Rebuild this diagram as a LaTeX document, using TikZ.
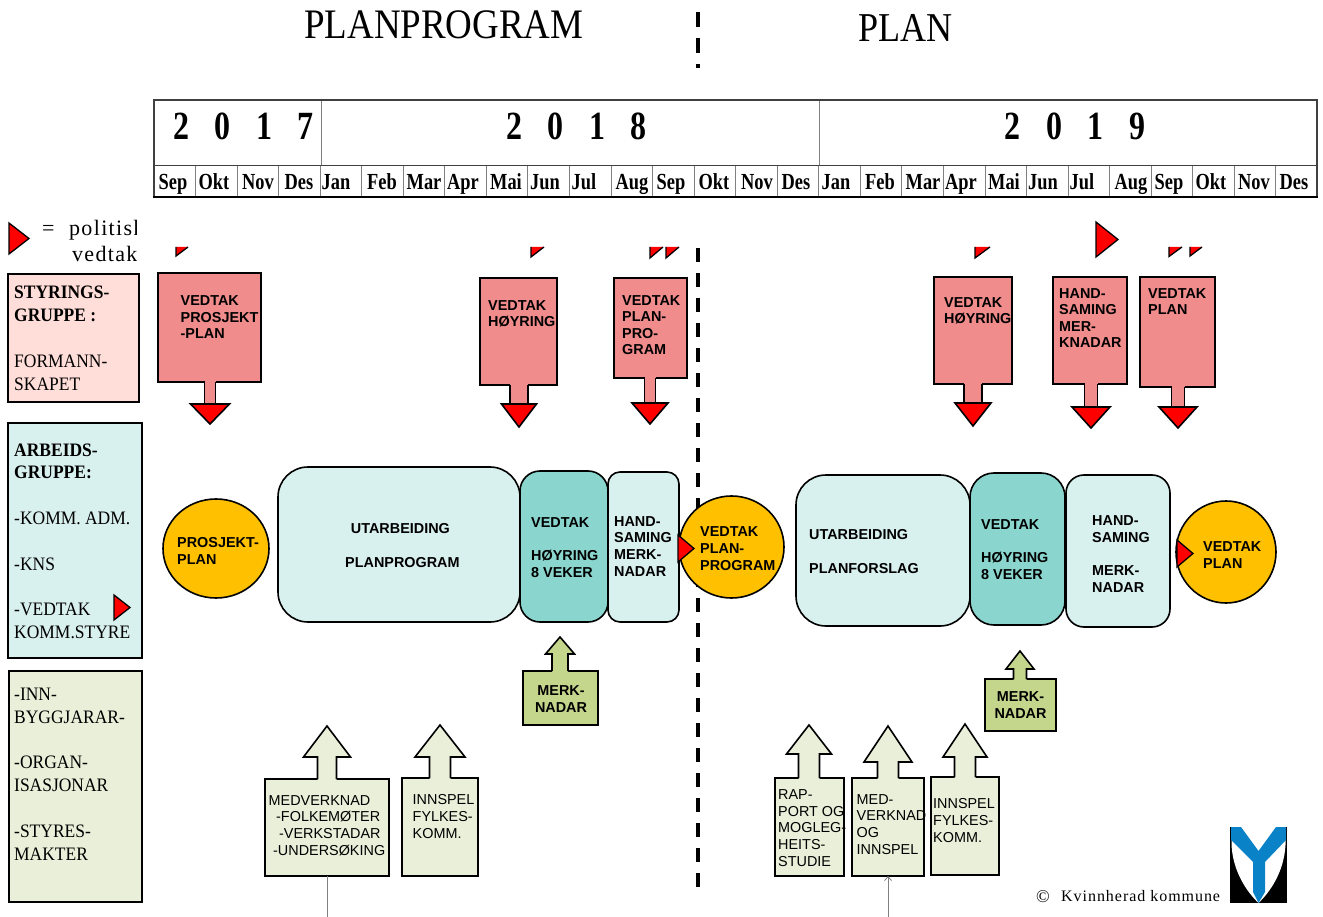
\documentclass[tikz,border=0pt]{standalone}
\usepackage{fontspec}
\setmainfont{Liberation Serif}
\setsansfont{Liberation Sans}
\newfontfamily\titlefont[FakeStretch=0.88]{Liberation Serif}
\newfontfamily\yearfont[FakeStretch=0.8]{Liberation Serif}
\newfontfamily\monthfont[FakeStretch=0.8]{Liberation Serif}
\newfontfamily\sidefont[FakeStretch=0.92]{Liberation Serif}
\newfontfamily\spacedfont[LetterSpace=6]{Liberation Serif}
\usepackage{tikz}
\usetikzlibrary{arrows.meta,shapes.geometric}
\definecolor{pinkbox}{HTML}{F08C8C}
\definecolor{rosebox}{HTML}{FFDDD8}
\definecolor{paleteal}{HTML}{D8F0EE}
\definecolor{midteal}{HTML}{8AD6CE}
\definecolor{gold}{HTML}{FFC000}
\definecolor{midgreen}{HTML}{C3D68C}
\definecolor{palegreen}{HTML}{EAEFD9}
\definecolor{logoblue}{HTML}{0A82C8}
\tikzset{
  outline/.style={draw=black,line width=1.6pt,line join=miter},
  panel/.style={outline,inner sep=0pt,outer sep=0pt},
  blob/.style={panel,rectangle},
  disc/.style={panel,ellipse,fill=gold},
  triang/.style={draw=black,line width=1.3pt,fill=red,line join=miter},
  lab/.style={anchor=base west,inner sep=0pt,align=left,text=black,font=\sffamily\bfseries\fontsize{14.4}{16.6}\selectfont},
  lablight/.style={lab,font=\sffamily\fontsize{14.4}{16.6}\selectfont},
  labmid/.style={lab,anchor=base,align=center},
  side/.style={anchor=base west,inner sep=0pt,align=left,font=\sidefont\fontsize{19}{22.8}\selectfont},
}
\newcommand{\spyear}[4]{#1\hspace{25.6pt}#2\hspace{25.6pt}#3\hspace{25.6pt}#4}
\begin{document}
\begin{tikzpicture}[x=1pt,y=-1pt]
  \useasboundingbox (0,0) rectangle (1323,917);

  % heading
  \node[anchor=base west,inner sep=0pt,font=\titlefont\fontsize{42}{42}\selectfont] (tp1) at (304,39) {PLANPROGRAM};
  \node[anchor=base west,inner sep=0pt,font=\titlefont\fontsize{41}{41}\selectfont] (tp2) at (858,42) {PLAN};
  \coordinate (d1) at (698,12);
  \coordinate (d2) at (698,68);
  \coordinate (d3) at (698,248);
  \coordinate (d4) at (698,888);
  \draw[line width=3.2pt,dash pattern=on 15pt off 11pt] (d1) -- (d2);
  \draw[line width=3.2pt,dash pattern=on 14pt off 11pt] (d3) -- (d4);

  % time line
  \foreach \i in {1,...,27}
    \draw[gray,line width=1pt] ({154+41.55*\i},166) -- ({154+41.55*\i},197);
  \draw[gray,line width=1pt] (321,100) -- (321,166);
  \draw[gray,line width=1pt] (819,100) -- (819,166);
  \draw[black!75,line width=1pt] (154,166) -- (1317,166);
  \draw[black!75,line width=1.2pt] (154,197) -- (154,100) -- (1317,100) -- (1317,197);
  \draw[black,line width=2pt] (153,197) -- (1318,197);
  \foreach \nm/\xc/\yr in {y17/243.5/{\spyear 2017},y18/576.5/{\spyear 2018},y19/1075/{\spyear 2019}}
    \node[anchor=base,inner sep=0pt,font=\yearfont\bfseries\fontsize{40}{40}\selectfont] (\nm) at (\xc,140) {\yr};
  \foreach \nm/\xc/\mon in {m1/173/Sep,m2/214/Okt,m3/258/Nov,m4/299/Des,m5/336/Jan,m6/382/Feb,m7/424/Mar,m8/463/Apr,m9/506/Mai,m10/545/Jun,m11/584/Jul,m12/632/Aug,m13/671/Sep,m14/714/Okt,m15/757/Nov,m16/796/Des,m17/836/Jan,m18/880/Feb,m19/923/Mar,m20/961/Apr,m21/1004/Mai,m22/1043/Jun,m23/1082/Jul,m24/1131/Aug,m25/1169/Sep,m26/1211/Okt,m27/1254/Nov,m28/1294/Des}
    \node[anchor=base,inner sep=0pt,font=\monthfont\bfseries\fontsize{23}{23}\selectfont] (\nm) at (\xc,190) {\mon};

  % legend and groups
  \begin{scope}
    \clip (30,210) rectangle (136.5,272);
    \node[anchor=base west,inner sep=0pt,font=\spacedfont\fontsize{22}{22}\selectfont] (lg1) at (42,236) {=};
    \node[anchor=base west,inner sep=0pt,font=\spacedfont\fontsize{22}{22}\selectfont] (lg2) at (69,236) {politisk};
    \node[anchor=base west,inner sep=0pt,font=\spacedfont\fontsize{22}{22}\selectfont] (lg3) at (72,262) {vedtak};
  \end{scope}
  \node[panel,fill=rosebox,minimum width=131pt,minimum height=128pt] (g1) at (73.5,338) {};
  \node[panel,fill=paleteal,minimum width=134pt,minimum height=235pt] (g2) at (75,540.5) {};
  \node[panel,fill=palegreen,minimum width=133pt,minimum height=231pt] (g3) at (75.5,786.5) {};
  \node[side] (tg1) at (14,390) {\textbf{STYRINGS-}\\\textbf{GRUPPE :}\\[22.8pt]FORMANN-\\SKAPET};
  \node[side] (tg2) at (14,638.5) {\textbf{ARBEIDS-}\\\textbf{GRUPPE:}\\[22.8pt]-KOMM. ADM.\\[22.8pt]-KNS\\[22.8pt]-VEDTAK\\KOMM.STYRE};
  \node[side] (tg3) at (14,860) {-INN-\\BYGGJARAR-\\[22.8pt]-ORGAN-\\ISASJONAR\\[22.8pt]-STYRES-\\MAKTER};

  % vedtak boxes
  \foreach \nm/\xa/\ya/\xb/\yb/\xc/\sw/\hy/\hw/\yt in {p1/158/273/261/382/210/5.5/404/19.5/424,p2/480/278/557/385/519/9/404/17.5/427,p3/614/278/687/378/650/5.5/403/18/424,p4/934/277/1012/384/973/9/403/18/426,p5/1053/277/1127/384/1091/6.5/407/19/428,p6/1140/277/1215/387/1178/6.5/407/19/428} {
    \node[panel,fill=pinkbox,minimum width={\xb-\xa},minimum height={\yb-\ya}] (\nm) at ({(\xa+\xb)/2},{(\ya+\yb)/2}) {};
    \fill[pinkbox] ({\xc-\sw},{\yb-1.5}) rectangle ({\xc+\sw},\hy);
    \draw[outline] ({\xc-\sw},\yb) -- ({\xc-\sw},\hy) ({\xc+\sw},\hy) -- ({\xc+\sw},\yb);
    \draw[outline,fill=red] ({\xc-\hw},\hy) -- ({\xc+\hw},\hy) -- (\xc,\yt) -- cycle;
  }
  \node[lab] (tp1b) at (180.5,339) {VEDTAK\\PROSJEKT\\-PLAN};
  \node[lab] (tp2b) at (488,327) {VEDTAK\\HØYRING};
  \node[lab] (tp3b) at (622,355) {VEDTAK\\PLAN-\\PRO-\\GRAM};
  \node[lab] (tp4b) at (944,324) {VEDTAK\\HØYRING};
  \node[lab] (tp5b) at (1059,348) {HAND-\\SAMING\\MER-\\KNADAR};
  \node[lab] (tp6b) at (1148,315) {VEDTAK\\PLAN};

  % process row
  \node[blob,rounded corners=30pt,fill=paleteal,minimum width=242pt,minimum height=155pt] (u1) at (399,544.5) {};
  \node[blob,rounded corners=20pt,fill=midteal,minimum width=88pt,minimum height=151pt] (h1) at (564,546.5) {};
  \node[blob,rounded corners=12pt,fill=paleteal,minimum width=71pt,minimum height=150pt] (s1) at (643.5,547) {};
  \node[disc,minimum width=106pt,minimum height=99pt] (c1) at (216,548.5) {};
  \node[disc,minimum width=105pt,minimum height=102pt] (c2) at (731.5,547) {};
  \node[blob,rounded corners=30pt,fill=paleteal,minimum width=174pt,minimum height=151pt] (u2) at (883,550.5) {};
  \node[blob,rounded corners=24pt,fill=midteal,minimum width=95pt,minimum height=152pt] (h2) at (1017.5,549) {};
  \node[blob,rounded corners=18pt,fill=paleteal,minimum width=104pt,minimum height=152pt] (s2) at (1118,551) {};
  \node[disc,minimum width=100pt,minimum height=102pt] (c3) at (1226,552) {};
  \node[lab] (tc1) at (177,564) {PROSJEKT-\\PLAN};
  \node[lab,align=center] (tu1) at (345,567) {UTARBEIDING\hspace*{4pt}\\[16.6pt]PLANPROGRAM};
  \node[lab] (th1) at (531,577) {VEDTAK\\[16.6pt]HØYRING\\8 VEKER};
  \node[lab] (ts1) at (614,576) {HAND-\\SAMING\\MERK-\\NADAR};
  \node[lab] (tc2) at (700,570) {VEDTAK\\PLAN-\\PROGRAM};
  \node[lab] (tu2) at (809,573) {UTARBEIDING\\[16.6pt]PLANFORSLAG};
  \node[lab] (th2) at (981,579) {VEDTAK\\[16.6pt]HØYRING\\8 VEKER};
  \node[lab] (ts2) at (1092,592) {HAND-\\SAMING\\[16.6pt]MERK-\\NADAR};
  \node[lab] (tc3) at (1203,568) {VEDTAK\\PLAN};

  % vedtak markers
  \foreach \xa/\ya/\yb/\xb in {9/223/254/29,114/595/620/130,1096/222/257/1118,678/535/562/694,1177/540/567/1193}
    \draw[triang] (\xa,\ya) -- (\xa,\yb) -- (\xb,{(\ya+\yb)/2}) -- cycle;
  \foreach \xa/\sw/\hw in {176/12/9,531/13/10,650/13/11,666/13/11,975/15/11,1169/13/9.5,1190/12/9}
    \draw[triang] (\xa,247) -- (\xa,{247+\hw}) -- ({\xa+\sw},247);

  % input boxes
  \foreach \nm/\xa/\ya/\xb/\yb/\xc/\sw/\hy/\hw/\yt/\col in {b1/523/671/598/725/560/8/654/14.5/637/midgreen,b2/985/679/1056/731/1020/6.5/669/14/651/midgreen,b3/265/779/389/876/327/9.5/757/23.5/726/palegreen,b4/402/778/478/876/440/10.5/757/25/725/palegreen,b5/775/778/844/876/809/10.5/754/22.5/725/palegreen,b6/852/778/924/876/888/10.5/762/24/726/palegreen,b7/931/777/999/875/965/10.5/757/22/724/palegreen} {
    \node[panel,fill=\col,minimum width={\xb-\xa},minimum height={\yb-\ya}] (\nm) at ({(\xa+\xb)/2},{(\ya+\yb)/2}) {};
    \fill[\col] ({\xc-\sw},{\ya+1.5}) -- ({\xc-\sw},\hy) -- ({\xc-\hw},\hy) -- (\xc,\yt) -- ({\xc+\hw},\hy) -- ({\xc+\sw},\hy) -- ({\xc+\sw},{\ya+1.5}) -- cycle;
    \draw[outline] ({\xc-\sw},\ya) -- ({\xc-\sw},\hy) -- ({\xc-\hw},\hy) -- (\xc,\yt) -- ({\xc+\hw},\hy) -- ({\xc+\sw},\hy) -- ({\xc+\sw},\ya);
  }
  \node[labmid] (tb1) at (561,712) {MERK-\\NADAR};
  \node[labmid] (tb2) at (1020.5,718) {MERK-\\NADAR};
  \node[lablight] (tb3) at (268.5,855) {MEDVERKNAD\\\hspace*{7.5pt}-FOLKEMØTER\\\hspace*{10.5pt}-VERKSTADAR\\\hspace*{4.5pt}-UNDERSØKING};
  \node[lablight] (tb4) at (412.5,838) {INNSPEL\\FYLKES-\\KOMM.};
  \node[lablight] (tb5) at (778,866) {RAP-\\PORT OG\\MOGLEG-\\HEITS-\\STUDIE};
  \node[lablight] (tb6) at (856.5,854) {MED-\\VERKNAD\\OG\\INNSPEL};
  \node[lablight] (tb7) at (933,842) {INNSPEL\\FYLKES-\\KOMM.};
  \coordinate (e1) at (327,917);
  \coordinate (e2) at (888,917);
  \draw[gray,line width=1pt] (b3.south) -- (e1);
  \draw[gray,line width=0.8pt,-{Straight Barb[length=4pt,width=7pt]}] (e2) -- (b6.south);

  % logo
  \fill[black] (1230,827) rectangle (1287,903);
  \fill[white] (1231.5,827) -- (1231.5,845) .. controls (1233,872) and (1247,892) .. (1258.5,903) .. controls (1270,892) and (1284,872) .. (1285.5,845) -- (1285.5,827) -- cycle;
  \fill[logoblue] (1231,827) -- (1241,827) -- (1258.5,851) -- (1276,827) -- (1286,827) -- (1286,840) -- (1265,862) -- (1265,892) -- (1258.5,903) -- (1253,892) -- (1253,862) -- (1231,840) -- cycle;
  \node[anchor=base west,inner sep=0pt,font=\fontsize{18}{18}\selectfont] (cr) at (1036,902) {©};
  \node[anchor=base west,inner sep=0pt,font=\spacedfont\fontsize{16}{16}\selectfont] (kv) at (1061,901.5) {Kvinnherad kommune};
\end{tikzpicture}
\end{document}
